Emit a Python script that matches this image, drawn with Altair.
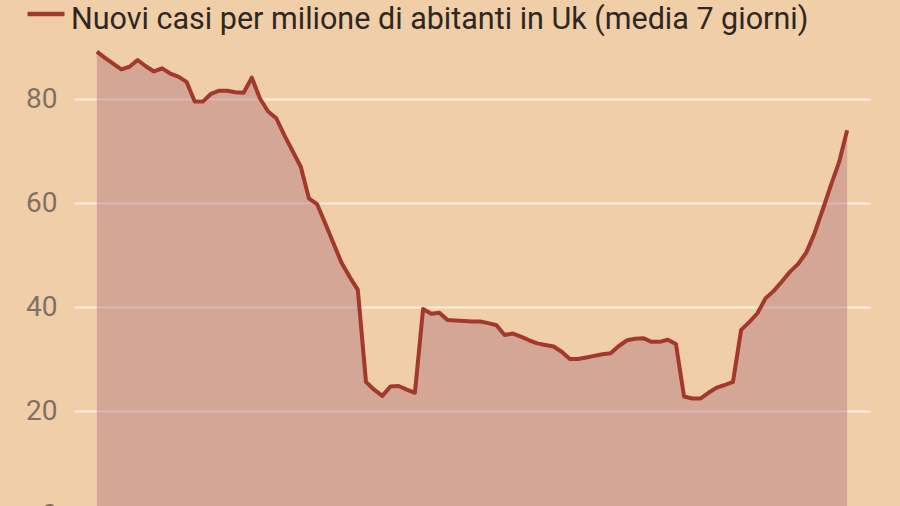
import altair as alt
import pandas as pd
import jinja2

SERIES = "Nuovi casi per milione di abitanti in Uk (media 7 giorni)"

day = list(range(93))
cases = [
    89.1, 87.9, 86.8, 85.7, 86.2, 87.5, 86.3, 85.3, 85.9, 84.9,
    84.3, 83.3, 79.5, 79.5, 81.0, 81.6, 81.6, 81.3, 81.2, 84.1,
    80.1, 77.6, 76.3, 73.0, 70.0, 67.0, 60.9, 59.8, 56.1, 52.3,
    48.5, 45.8, 43.3, 25.6, 24.1, 22.9, 24.7, 24.8, 24.1, 23.5,
    39.6, 38.7, 38.9, 37.5, 37.4, 37.3, 37.2, 37.2, 36.9, 36.5,
    34.6, 34.9, 34.3, 33.6, 33.0, 32.7, 32.4, 31.4, 30.0, 30.0,
    30.3, 30.6, 30.9, 31.1, 32.5, 33.6, 33.9, 34.0, 33.3, 33.3,
    33.7, 32.9, 22.8, 22.4, 22.4, 23.5, 24.5, 25.0, 25.6, 35.6,
    37.1, 38.8, 41.7, 43.1, 44.9, 46.8, 48.3, 50.5, 54.2, 58.7,
    63.4, 67.8, 74.0,
]
y_ticks = [0, 20, 40, 60, 80]

df = pd.DataFrame({"day": day, "cases": cases, "serie": SERIES})

BG = "#f0cea8"
LINE = "#a3392c"

x_enc = alt.X("day:Q", axis=None, scale=alt.Scale(domain=[-2.8, 94.8], nice=False, zero=False))
y_enc = alt.Y(
    "cases:Q",
    title=None,
    scale=alt.Scale(domain=[0, 90], nice=False),
    axis=alt.Axis(
        values=y_ticks,
        domain=False,
        ticks=False,
        labelPadding=17,
        labelFontSize=28,
        labelFont="Roboto",
        labelColor="#7f7264",
        gridColor="#f8eee2",
        gridWidth=2,
        gridOpacity=1,
    ),
)

area = alt.Chart(df).mark_area(color="#b87e84", opacity=0.5).encode(x=x_enc, y=y_enc)

line = alt.Chart(df).mark_line(strokeWidth=4, strokeJoin="round").encode(
    x=x_enc,
    y=y_enc,
    color=alt.Color(
        "serie:N",
        scale=alt.Scale(range=[LINE]),
        legend=alt.Legend(
            title=None,
            orient="none",
            legendX=-49,
            legendY=-48.5,
            symbolType="M-1,-0.3H1",
            symbolSize=1369,
            symbolStrokeWidth=4.5,
            symbolFillColor="transparent",
            labelOffset=4,
            labelFontSize=30.5,
            labelFont="Roboto",
            labelColor="#2f2722",
            labelLimit=2000,
            padding=0,
        ),
    ),
)

chart = (
    alt.layer(area, line)
    .properties(
        width=796,
        height=468,
        background=BG,
        padding={"left": 74, "top": 47, "right": 30, "bottom": 30},
        autosize=alt.AutoSizeParams(type="none"),
    )
    .configure_view(stroke=None)
)

TEMPLATE = jinja2.Template(
    """<!DOCTYPE html>
<html>
<head>
<style>body { background: #f0cea8; margin: 0; }</style>
<script type="text/javascript" src="{{ base_url }}/vega@{{ vega_version }}"></script>
<script type="text/javascript" src="{{ base_url }}/vega-lite@{{ vegalite_version }}"></script>
<script type="text/javascript" src="{{ base_url }}/vega-embed@{{ vegaembed_version }}"></script>
</head>
<body>
<div id="{{ output_div }}"></div>
<script type="text/javascript">
vegaEmbed("#{{ output_div }}", {{ spec }}, {{ embed_options }}).catch(console.error);
</script>
</body>
</html>
"""
)

chart.save("out.html", embed_options={"renderer": "svg", "actions": False}, template=TEMPLATE)
